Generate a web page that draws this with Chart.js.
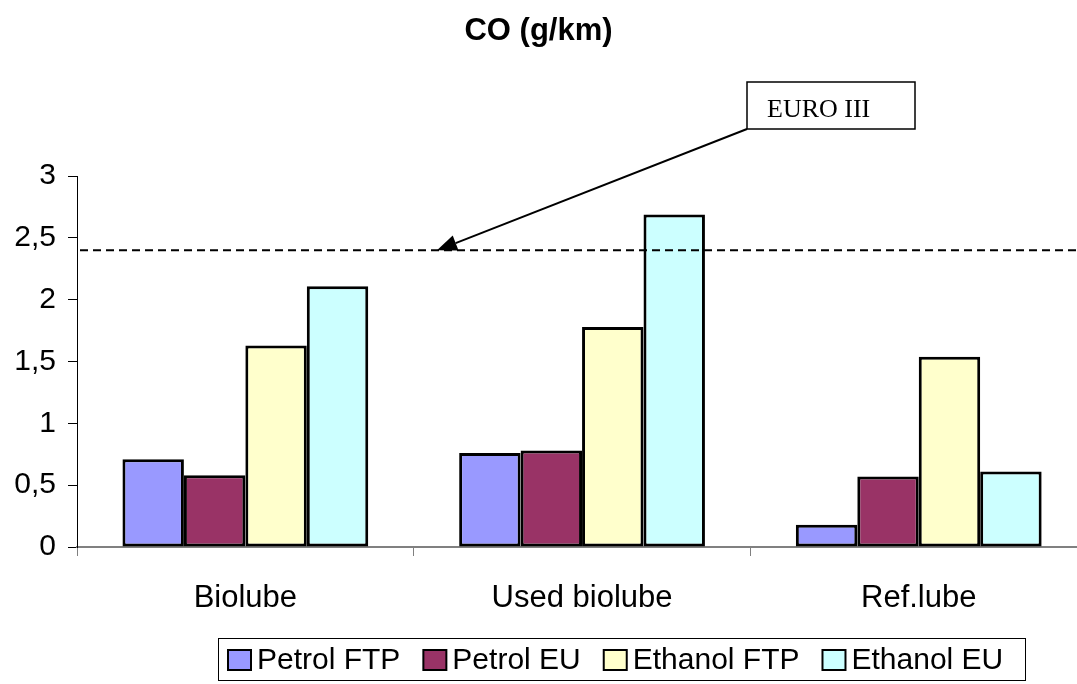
<!DOCTYPE html>
<html>
<head>
<meta charset="utf-8">
<script src="https://cdn.jsdelivr.net/npm/chart.js@4.4.1/dist/chart.umd.min.js"></script>
<style>
  html, body { margin: 0; padding: 0; background: #ffffff; overflow: hidden; }
  canvas { display: block; }
</style>
</head>
<body>
<canvas id="chart" width="1077" height="684" style="width:1077px;height:684px"></canvas>
<script>
// CO emissions per lubricant and test cycle
const categories = ['Biolube', 'Used biolube', 'Ref.lube'];
const seriesNames = ['Petrol FTP', 'Petrol EU', 'Ethanol FTP', 'Ethanol EU'];
const petrolFTP  = [0.71, 0.76, 0.18];
const petrolEU   = [0.58, 0.78, 0.57];
const ethanolFTP = [1.63, 1.78, 1.54];
const ethanolEU  = [2.11, 2.69, 0.61];
const yTickValues = [0, 0.5, 1, 1.5, 2, 2.5, 3];
const yTickLabels = ['0', '0,5', '1', '1,5', '2', '2,5', '3'];
const euroLimit = 2.4;
const euroLabel = 'EURO III';

const seriesColors = ['#9999FF', '#993366', '#FFFFCC', '#CCFFFF'];
const seriesValues = [petrolFTP, petrolEU, ethanolFTP, ethanolEU];

const SANS = '"Liberation Sans", Arial, sans-serif';
const SERIF = '"Liberation Serif", "Times New Roman", serif';

// Dashed limit line with its callout box and arrow
const limitPlugin = {
  id: 'limitLine',
  afterDatasetsDraw(chart) {
    const { ctx, chartArea, scales } = chart;
    const y = scales.y.getPixelForValue(euroLimit);
    ctx.save();
    ctx.strokeStyle = '#000';
    ctx.lineWidth = 2;
    ctx.setLineDash([8, 5]);
    ctx.beginPath();
    ctx.moveTo(chartArea.left + 3, y);
    ctx.lineTo(chart.width, y);
    ctx.stroke();
    ctx.setLineDash([]);

    // callout box
    const bx = 747, by = 82, bw = 168, bh = 47;
    ctx.fillStyle = '#fff';
    ctx.fillRect(bx, by, bw, bh);
    ctx.lineWidth = 1.5;
    ctx.strokeRect(bx, by, bw, bh);
    ctx.fillStyle = '#000';
    ctx.font = '26px ' + SERIF;
    ctx.textAlign = 'left';
    ctx.textBaseline = 'alphabetic';
    ctx.fillText(euroLabel, bx + 20, by + 35);

    // arrow from the box corner to the limit line
    const tx = chartArea.left + 360, ty = y;
    const sx = bx, sy = by + bh;
    const ang = Math.atan2(ty - sy, tx - sx);
    const headLen = 20, headW = 8;
    const baseX = tx - headLen * Math.cos(ang), baseY = ty - headLen * Math.sin(ang);
    ctx.lineWidth = 2;
    ctx.beginPath();
    ctx.moveTo(sx, sy);
    ctx.lineTo(baseX, baseY);
    ctx.stroke();
    ctx.beginPath();
    ctx.moveTo(tx, ty);
    ctx.lineTo(baseX + headW * Math.sin(ang), baseY - headW * Math.cos(ang));
    ctx.lineTo(baseX - headW * Math.sin(ang), baseY + headW * Math.cos(ang));
    ctx.closePath();
    ctx.fill();
    ctx.restore();
  }
};

// Boxed legend below the axis
const boxedLegend = {
  id: 'boxedLegend',
  afterDraw(chart) {
    const { ctx } = chart;
    const left = 218, top = 638, width = 807, height = 42;
    const sqW = 23, sqH = 20, gapText = 6, gapItem = 23;
    ctx.save();
    ctx.font = '30px ' + SANS;
    const items = chart.data.datasets.map(ds => ({
      label: ds.label, color: ds.backgroundColor, w: ctx.measureText(ds.label).width
    }));
    let x = left + 10;
    const cy = top + height / 2 + 1;
    ctx.strokeStyle = '#000';
    ctx.lineWidth = 1;
    ctx.strokeRect(left + 0.5, top + 0.5, width, height);
    ctx.textBaseline = 'middle';
    ctx.textAlign = 'left';
    items.forEach(it => {
      ctx.fillStyle = it.color;
      ctx.fillRect(x, cy - sqH / 2, sqW, sqH);
      ctx.lineWidth = 2;
      ctx.strokeStyle = '#000';
      ctx.strokeRect(x, cy - sqH / 2, sqW, sqH);
      ctx.fillStyle = '#000';
      ctx.fillText(it.label, x + sqW + gapText, cy + 1);
      x += sqW + gapText + it.w + gapItem;
    });
    ctx.restore();
  }
};

new Chart(document.getElementById('chart'), {
  type: 'bar',
  data: {
    labels: categories,
    datasets: seriesNames.map((name, i) => ({
      label: name,
      data: seriesValues[i],
      backgroundColor: seriesColors[i],
      borderColor: '#000',
      borderWidth: 3,
      borderSkipped: false,
      categoryPercentage: 0.73,
      barPercentage: 1.0
    }))
  },
  options: {
    responsive: false,
    animation: false,
    devicePixelRatio: 1,
    layout: { padding: { left: 0, right: 0, top: 0, bottom: 0 } },
    plugins: {
      legend: { display: false },
      tooltip: { enabled: false },
      title: {
        display: true,
        text: 'CO (g/km)',
        color: '#000',
        font: { family: SANS, size: 31, weight: 'bold' },
        padding: { top: 13, bottom: 126 }
      }
    },
    scales: {
      x: {
        offset: true,
        // the last category runs a little past the right edge of the canvas
        afterBuildTicks(scale) { scale._valueRange -= 0.03; },
        grid: { display: true, drawOnChartArea: false, offset: true, tickLength: 9, color: '#808080', lineWidth: 1 },
        border: { display: true, color: '#808080', width: 2 },
        ticks: { color: '#000', font: { family: SANS, size: 31 }, padding: 24 },
        afterFit(scale) { scale.height = 137; }
      },
      y: {
        min: 0,
        max: 3,
        afterBuildTicks(scale) { scale.ticks = yTickValues.map(v => ({ value: v })); },
        grid: { display: true, drawOnChartArea: false, tickLength: 9, color: '#000', lineWidth: 1 },
        border: { display: true, color: '#000', width: 1 },
        ticks: {
          color: '#000',
          font: { family: SANS, size: 30 },
          padding: 12,
          callback: (v) => yTickLabels[yTickValues.indexOf(v)]
        },
        afterFit(scale) { scale.width = 77; }
      }
    }
  },
  plugins: [limitPlugin, boxedLegend]
});
</script>
</body>
</html>
